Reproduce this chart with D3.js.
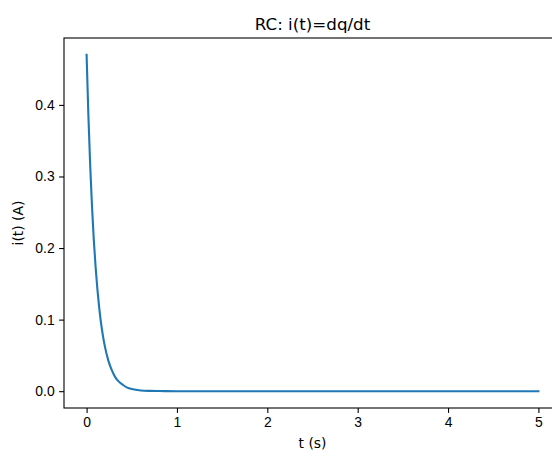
<!DOCTYPE html>
<html>
<head>
<meta charset="utf-8">
<script src="https://cdn.jsdelivr.net/npm/d3@7"></script>
<style>
  body { margin: 0; background: #fff; }
  svg { display: block; font-family: "DejaVu Sans", sans-serif; }
  .tick text { font-size: 13.9px; fill: #000; }
  .tick line { stroke: #000; stroke-width: 1.1; }
</style>
</head>
<body>
<svg id="chart" width="552" height="453"></svg>
<script>
// data
var tValues = [0, 0.02, 0.04, 0.06, 0.08, 0.10, 0.12, 0.14, 0.16, 0.18, 0.20,
               0.24, 0.28, 0.32, 0.36, 0.40, 0.45, 0.50, 0.60, 0.70, 0.80, 1.0,
               1.5, 2.0, 2.5, 3.0, 3.5, 4.0, 4.5, 5.0];
var iValues = [0.470, 0.385, 0.315, 0.258, 0.211, 0.173, 0.142, 0.116, 0.095, 0.078, 0.064,
               0.043, 0.029, 0.019, 0.013, 0.009, 0.005, 0.003, 0.001, 0.0004, 0.0002, 0,
               0, 0, 0, 0, 0, 0, 0, 0];
var xTicks = [0, 1, 2, 3, 4, 5];
var yTicks = [0.0, 0.1, 0.2, 0.3, 0.4];

var svg = d3.select("#chart");

// ---------------------------//
//       AXIS  AND SCALE      //
// ---------------------------//

var mLeft = 64, mRight = 561, mTop = 38, mBottom = 408;

var x = d3.scaleLinear()
    .domain([-0.25, 5.25])
    .range([mLeft, mRight]);

var y = d3.scaleLinear()
    .domain([-0.0235, 0.4935])
    .range([mBottom, mTop]);

svg.append("g")
    .attr("transform", "translate(0," + mBottom + ")")
    .call(d3.axisBottom(x).tickValues(xTicks).tickSize(4.9).tickPadding(4.5).tickFormat(d3.format("d")))
    .call(function(g) { g.select(".domain").remove(); });

svg.append("g")
    .attr("transform", "translate(" + mLeft + ",0)")
    .call(d3.axisLeft(y).tickValues(yTicks).tickSize(4.9).tickPadding(4.5).tickFormat(d3.format(".1f")))
    .call(function(g) { g.select(".domain").remove(); });

// frame
svg.append("rect")
    .attr("x", mLeft)
    .attr("y", mTop)
    .attr("width", mRight - mLeft)
    .attr("height", mBottom - mTop)
    .attr("fill", "none")
    .attr("stroke", "#000")
    .attr("stroke-width", 1.1);

// ---------------------------//
//       LINE                 //
// ---------------------------//

var pts = tValues.map(function(t, k) { return [t, iValues[k]]; });

svg.append("path")
    .datum(pts)
    .attr("fill", "none")
    .attr("stroke", "#1f77b4")
    .attr("stroke-width", 2.1)
    .attr("stroke-linecap", "square")
    .attr("d", d3.line()
        .x(function(d) { return x(d[0]); })
        .y(function(d) { return y(d[1]); })
        .curve(d3.curveMonotoneX));

// ---------------------------//
//       LABELS               //
// ---------------------------//

svg.append("text")
    .attr("x", (mLeft + mRight) / 2)
    .attr("y", 30)
    .attr("text-anchor", "middle")
    .style("font-size", "16.7px")
    .text("RC: i(t)=dq/dt");

svg.append("text")
    .attr("x", (mLeft + mRight) / 2)
    .attr("y", 448)
    .attr("text-anchor", "middle")
    .style("font-size", "13.9px")
    .text("t (s)");

svg.append("text")
    .attr("transform", "translate(23," + ((mTop + mBottom) / 2) + ") rotate(-90)")
    .attr("text-anchor", "middle")
    .style("font-size", "13.9px")
    .text("i(t) (A)");
</script>
</body>
</html>
